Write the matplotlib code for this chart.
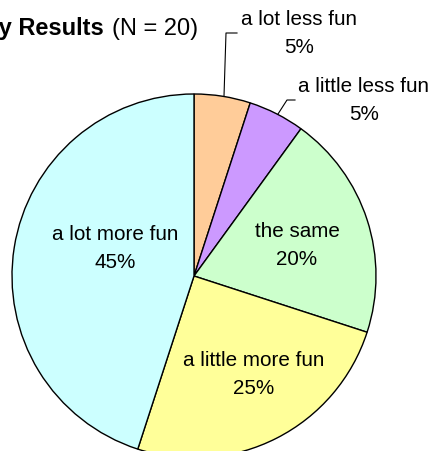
import matplotlib
matplotlib.use("Agg")
import matplotlib.pyplot as plt

categories = ["a lot less fun", "a little less fun", "the same", "a little more fun", "a lot more fun"]
percents = [5, 5, 20, 25, 45]
colors = ["#FFCC99", "#CC99FF", "#CCFFCC", "#FFFF99", "#CCFFFF"]
title_bold = "Survey Results"
title_rest = "(N = 20)"

W, H = 435, 452
DPI = 100
plt.rcParams['font.family'] = ['Liberation Sans', 'DejaVu Sans']

fig = plt.figure(figsize=(W / DPI, H / DPI), dpi=DPI)
fig.patch.set_facecolor("white")

# pie geometry in pixels (top-left origin)
cx, cy, r = 194, 277, 182
ax = fig.add_axes([(cx - r) / W, (H - (cy + r)) / H, 2 * r / W, 2 * r / H])

wedges, _ = ax.pie(percents, colors=colors, startangle=90, counterclock=False,
                   radius=1, wedgeprops=dict(edgecolor="black", linewidth=1.0))
for w in wedges:
    w.set_clip_on(False)
ax.set_xlim(-1, 1)
ax.set_ylim(-1, 1)
ax.set_aspect('equal')
ax.axis('off')

def d(px, py):
    return ((px - cx) / r, (cy - py) / r)

fs = 14.9
# baseline position of the last (percentage) line of each label, in pixels
label_pos = {
    "a lot less fun": (299, 53),
    "a little less fun": (364, 120),
    "the same": (297, 265),
    "a little more fun": (253.5, 394),
    "a lot more fun": (115.5, 268),
}
for cat, p in zip(categories, percents):
    x, y = d(*label_pos[cat])
    ax.text(x, y, f"{cat}\n{p}%", ha="center", va="baseline", fontsize=fs,
            linespacing=1.6, clip_on=False)

# leader lines
leaders = [
    [(224, 97), (226, 34), (237, 34)],
    [(278, 115), (287, 101), (295, 101)],
]
for pts in leaders:
    xs, ys = zip(*[d(*p) for p in pts])
    ax.plot(xs, ys, color="black", linewidth=0.8, clip_on=False)

# title (partly cut off at left edge, as in the original)
fig.text(104 / W, 1 - 35 / H, title_bold, ha="right", va="baseline",
         fontsize=17, fontweight="bold")
fig.text(112 / W, 1 - 35 / H, title_rest, ha="left", va="baseline",
         fontsize=17)

fig.savefig("out.png", dpi=DPI, facecolor="white")
